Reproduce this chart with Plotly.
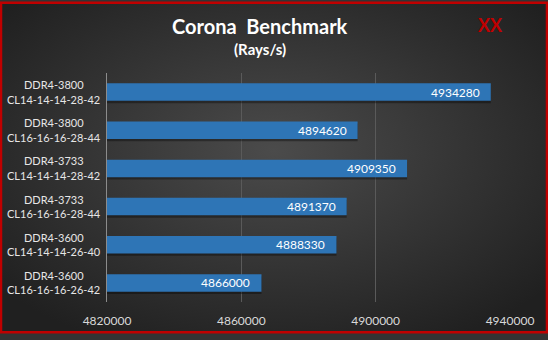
import plotly.graph_objects as go
import base64

categories = [
    "DDR4-3800<br>CL14-14-14-28-42",
    "DDR4-3800<br>CL16-16-16-28-44",
    "DDR4-3733<br>CL14-14-14-28-42",
    "DDR4-3733<br>CL16-16-16-28-44",
    "DDR4-3600<br>CL14-14-14-26-40",
    "DDR4-3600<br>CL16-16-16-26-42",
]
values = [4934280, 4894620, 4909350, 4891370, 4888330, 4866000]
tick_vals = [4820000, 4860000, 4900000, 4940000]

svg = """<svg xmlns='http://www.w3.org/2000/svg' width='548' height='340'>
<defs><radialGradient id='g' cx='50%' cy='45%' r='65%'>
<stop offset='0%' stop-color='#4b4b4b'/><stop offset='100%' stop-color='#202020'/>
</radialGradient></defs>
<rect width='548' height='340' fill='url(#g)'/>
</svg>"""
bg = "data:image/svg+xml;base64," + base64.b64encode(svg.encode()).decode()

font = "Lato, Open Sans, sans-serif"
W, H, L, R, T, B = 548, 340, 107, 38, 73, 32
PW, PH = W - L - R, H - T - B
BW = 0.46

fig = go.Figure()
fig.add_trace(go.Bar(
    x=values, y=categories, orientation="h",
    marker=dict(color="rgba(0,0,0,0.35)", line=dict(width=0)),
    width=BW, offset=-BW / 2 + 0.06, hoverinfo="skip",
))
fig.add_trace(go.Bar(
    x=values, y=categories, orientation="h",
    marker=dict(color="#2e75b6", line=dict(width=0)),
    width=BW, offset=-BW / 2, hoverinfo="x+y",
))

annotations = [
    dict(text="<b>Corona  Benchmark</b>", xref="paper", yref="paper",
         x=(260 - L) / PW, y=1 + (T - 25) / PH, xanchor="center", yanchor="middle",
         showarrow=False, font=dict(size=20, color="white", family=font)),
    dict(text="<b>(Rays/s)</b>", xref="paper", yref="paper",
         x=(260 - L) / PW, y=1 + (T - 48) / PH, xanchor="center", yanchor="middle",
         showarrow=False, font=dict(size=15, color="white", family=font)),
    dict(text="<b>XX</b>", xref="paper", yref="paper",
         x=(490 - L) / PW, y=1 + (T - 24) / PH, xanchor="center", yanchor="middle",
         showarrow=False, font=dict(size=18, color="#c00000", family=font)),
]
for c, v in zip(categories, values):
    annotations.append(dict(text=str(v), x=v, y=c, xref="x", yref="y",
                            xanchor="right", yanchor="middle", xshift=-9,
                            showarrow=False,
                            font=dict(size=12, color="white", family=font)))
    l1, l2 = c.split("<br>")
    for txt, dy in ((l1, 7.5), (l2, -7)):
        annotations.append(dict(text=txt, x=(53.5 - L) / PW, y=c, xref="paper", yref="y",
                                xanchor="center", yanchor="middle", yshift=dy,
                                showarrow=False,
                                font=dict(size=11, color="#e6e6e6", family=font)))

fig.update_layout(
    width=W, height=H,
    margin=dict(l=L, r=R, t=T, b=B),
    paper_bgcolor="#333333",
    plot_bgcolor="rgba(0,0,0,0)",
    barmode="overlay",
    showlegend=False,
    images=[dict(source=bg, xref="paper", yref="paper", x=-L / PW, y=1 + T / PH,
                 sizex=W / PW, sizey=H / PH, xanchor="left", yanchor="top",
                 sizing="stretch", layer="below")],
    shapes=[dict(type="rect", xref="paper", yref="paper",
                 x0=-(L - 1) / PW, x1=1 + (R - 1) / PW, y0=-(B - 1) / PH, y1=1 + (T - 1) / PH,
                 line=dict(color="#c00000", width=2.5))],
    annotations=annotations,
)
fig.update_xaxes(
    range=[4820000, 4940000], tickvals=tick_vals,
    tickformat="d", showgrid=True, gridcolor="#5a5a5a", gridwidth=1,
    zeroline=False, showline=False,
    tickfont=dict(color="#d9d9d9", size=12, family=font),
    ticks="outside", ticklen=8, tickcolor="rgba(0,0,0,0)",
)
fig.update_yaxes(
    autorange="reversed", showline=True, linecolor="#8c8c8c", linewidth=1,
    showticklabels=False, ticks="", showgrid=False,
)
fig.write_html("out.html")
